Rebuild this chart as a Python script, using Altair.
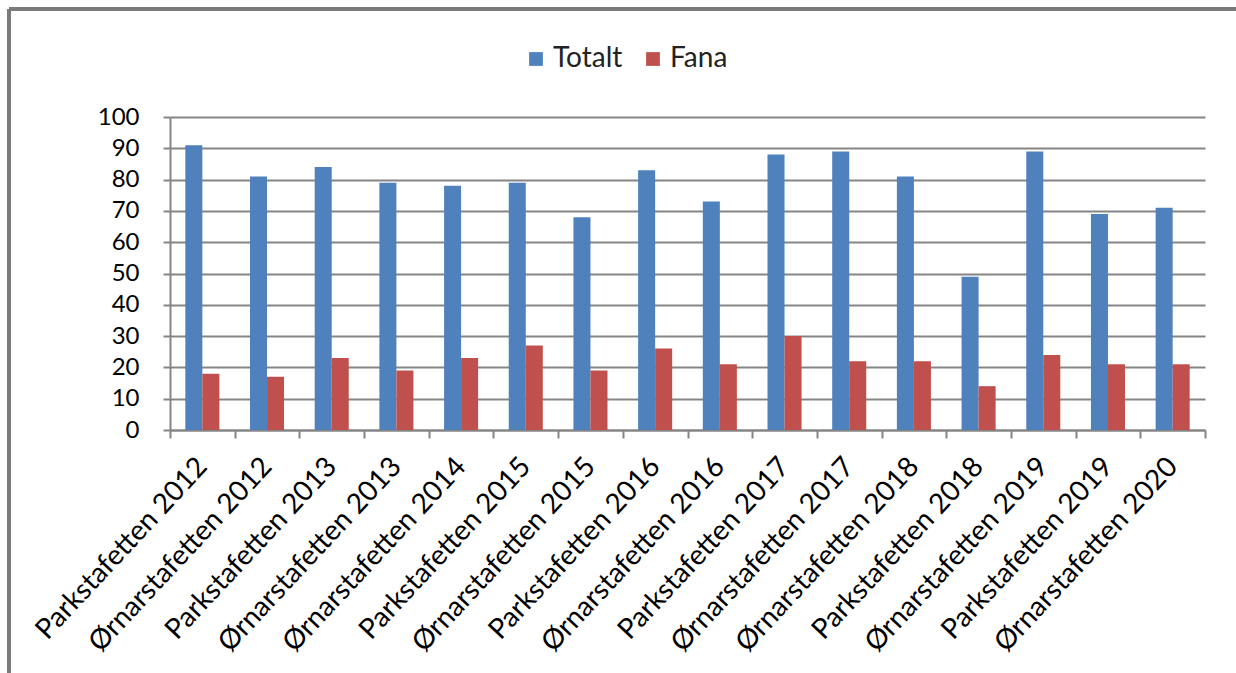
import altair as alt
import pandas as pd

categories = [
    "Parkstafetten 2012", "Ørnarstafetten 2012", "Parkstafetten 2013",
    "Ørnarstafetten 2013", "Ørnarstafetten 2014", "Parkstafetten 2015",
    "Ørnarstafetten 2015", "Parkstafetten 2016", "Ørnarstafetten 2016",
    "Parkstafetten 2017", "Ørnarstafetten 2017", "Ørnarstafetten 2018",
    "Parkstafetten 2018", "Ørnarstafetten 2019", "Parkstafetten 2019",
    "Ørnarstafetten 2020",
]
series_names = ["Totalt", "Fana"]
totalt = [91, 81, 84, 79, 78, 79, 68, 83, 73, 88, 89, 81, 49, 89, 69, 71]
fana = [18, 17, 23, 19, 23, 27, 19, 26, 21, 30, 22, 22, 14, 24, 21, 21]
y_ticks = [0, 10, 20, 30, 40, 50, 60, 70, 80, 90, 100]
colors = ["#4F81BD", "#C0504D"]

rows = []
for i, c in enumerate(categories):
    rows.append({"kategori": c, "serie": "Totalt", "verdi": totalt[i], "ord": i})
    rows.append({"kategori": c, "serie": "Fana", "verdi": fana[i], "ord": i})
df = pd.DataFrame(rows)

FONT = "Lato"
GRID = "#858585"

bars = alt.Chart(df).mark_bar().encode(
    x=alt.X(
        "kategori:N",
        sort=categories,
        scale=alt.Scale(paddingInner=0, paddingOuter=0),
        axis=alt.Axis(
            title=None,
            labelAngle=-47,
            labelAlign="right",
            labelBaseline="middle",
            labelFont=FONT,
            labelFontSize=28,
            labelColor="#000000",
            labelPadding=24,
            labelOffset=0,
            labelLimit=0,
            tickBand="extent",
            tickSize=8,
            tickColor=GRID,
            tickWidth=2,
            domainColor=GRID,
            domainWidth=2,
            grid=False,
            labelOverlap=False,
        ),
    ),
    xOffset=alt.XOffset(
        "serie:N",
        sort=series_names,
        scale=alt.Scale(paddingInner=0, paddingOuter=0.9),
    ),
    y=alt.Y(
        "verdi:Q",
        scale=alt.Scale(domain=[0, 100], nice=False),
        axis=alt.Axis(
            title=None,
            values=y_ticks,
            labelFont=FONT,
            labelFontSize=24,
            labelColor="#000000",
            labelPadding=24,
            tickSize=7,
            tickColor=GRID,
            tickWidth=2,
            domainColor=GRID,
            domainWidth=2,
            gridColor=GRID,
            gridWidth=2,
        ),
    ),
    color=alt.Color(
        "serie:N",
        sort=series_names,
        scale=alt.Scale(domain=series_names, range=colors),
        legend=alt.Legend(
            title=None,
            orient="none",
            direction="horizontal",
            legendX=352,
            legendY=-72,
            symbolType="square",
            symbolSize=190,
            symbolStrokeWidth=0,
            labelFont=FONT,
            labelFontSize=28,
            labelColor="#222222",
            labelOffset=3,
            columnPadding=16,
        ),
    ),
)

frame_left = alt.Chart(df).mark_rule(color="#7a7a7a", strokeWidth=3).encode(
    x=alt.value(-161), y=alt.value(-108), y2=alt.value(556)
)
frame_top = alt.Chart(df).mark_rule(color="#7a7a7a", strokeWidth=3).encode(
    x=alt.value(-161), x2=alt.value(1066), y=alt.value(-108)
)

chart = alt.layer(bars, frame_left, frame_top).properties(
    width=1035,
    height=313,
    autosize=alt.AutoSizeParams(type="none"),
    padding={"left": 170, "top": 117, "right": 31, "bottom": 243},
    background="white",
).configure_view(stroke=None)

chart.save("out.html", embed_options={"renderer": "svg", "actions": False})
